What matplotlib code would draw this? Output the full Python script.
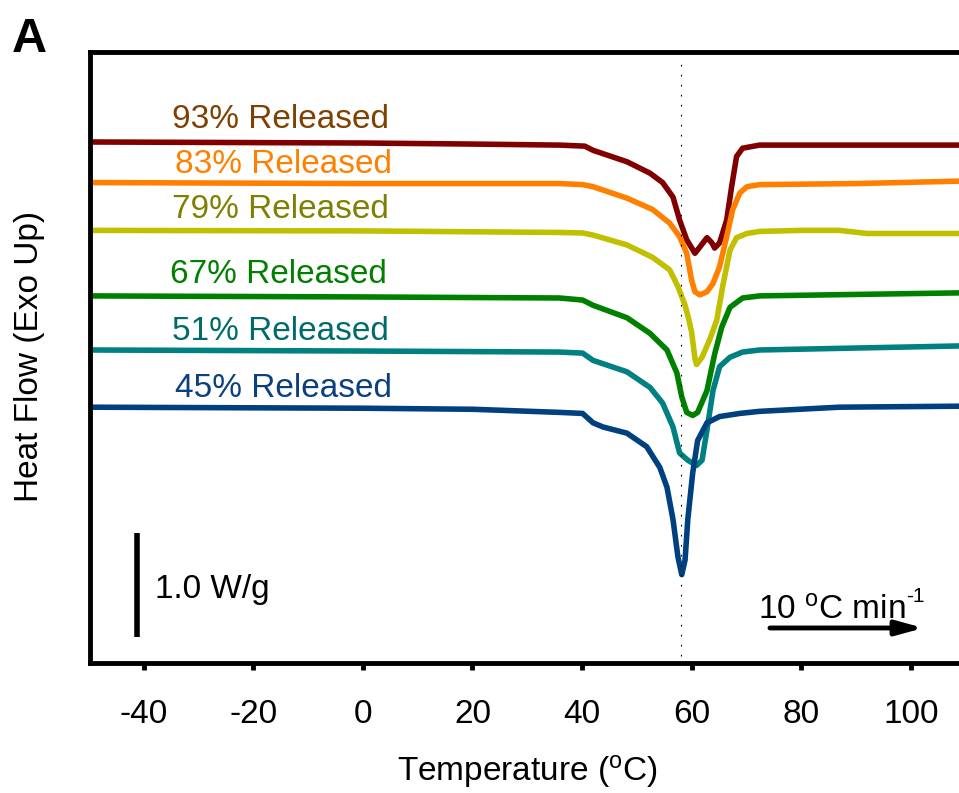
import matplotlib.pyplot as plt
import numpy as np

plt.rcParams['font.family'] = ['Liberation Sans', 'DejaVu Sans']
plt.rcParams['mathtext.fontset'] = 'custom'
plt.rcParams['mathtext.rm'] = 'Liberation Sans'
plt.rcParams['mathtext.it'] = 'Liberation Sans:italic'
plt.rcParams['axes.unicode_minus'] = False

# DSC traces, temperature (oC) vs. stacked heat flow (W/g)
t93 = [-50, 0, 20, 35.9, 40.5, 42.0, 48.2, 52.4, 54.7, 56.6, 57.8, 59.1, 60.6, 61.5,
       62.8, 63.7, 64.2, 65.1, 66.4, 67.3, 68.2, 69.3, 72.4, 90, 110]
hf93 = [5.01, 5.00, 4.99, 4.98, 4.97, 4.93, 4.82, 4.71, 4.62, 4.48, 4.26, 4.07, 3.94, 4.00,
        4.09, 4.04, 3.99, 4.04, 4.26, 4.58, 4.87, 4.95, 4.98, 4.98, 4.98]

t83 = [-50, 0, 35.9, 40.1, 42.0, 48.2, 52.9, 56.0, 57.8, 59.1, 60.0, 60.6, 61.5, 62.8,
       63.9, 65.1, 66.4, 67.5, 68.8, 70.1, 72.4, 90, 110]
hf83 = [4.62, 4.61, 4.61, 4.60, 4.58, 4.47, 4.36, 4.23, 4.10, 3.94, 3.68, 3.57, 3.54, 3.57,
        3.65, 3.81, 4.10, 4.36, 4.52, 4.58, 4.60, 4.61, 4.635]

t79 = [-50, 0, 35.9, 40.1, 42.0, 48.2, 52.9, 56.0, 57.5, 58.8, 59.5, 60.0, 60.6, 60.9,
       61.9, 63.3, 64.6, 65.7, 67.0, 68.2, 70.1, 72.4, 80, 87, 92, 110]
hf79 = [4.16, 4.155, 4.14, 4.135, 4.115, 4.02, 3.90, 3.78, 3.62, 3.44, 3.30, 3.18, 2.93, 2.87,
        2.94, 3.11, 3.30, 3.63, 3.97, 4.09, 4.13, 4.15, 4.16, 4.16, 4.13, 4.13]

t67 = [-50, 0, 35.9, 40.1, 42.0, 48.2, 52.4, 55.5, 57.3, 58.2, 59.1, 60.2, 61.1, 62.8,
       64.2, 65.5, 67.0, 69.3, 72.4, 110]
hf67 = [3.53, 3.52, 3.51, 3.49, 3.44, 3.32, 3.17, 3.01, 2.79, 2.56, 2.41, 2.38, 2.41, 2.62,
        2.97, 3.23, 3.42, 3.51, 3.53, 3.56]

t51 = [-50, 0, 35.9, 40.1, 42.0, 48.2, 52.4, 54.7, 56.6, 57.8, 59.3, 60.9, 61.9, 62.8,
       63.9, 65.1, 67.0, 69.3, 72.4, 110]
hf51 = [3.01, 3.00, 2.99, 2.98, 2.91, 2.80, 2.65, 2.50, 2.27, 2.02, 1.95, 1.90, 1.95, 2.24,
        2.62, 2.85, 2.94, 2.99, 3.01, 3.05]

t45 = [-50, 0, 20, 35.9, 40.1, 42.0, 43.8, 48.2, 51.8, 54.2, 55.5, 56.6, 57.5, 58.2, 58.8,
       59.3, 60.2, 61.1, 62.8, 65.1, 68.8, 72.4, 87, 110]
hf45 = [2.46, 2.45, 2.44, 2.41, 2.40, 2.31, 2.27, 2.21, 2.08, 1.88, 1.69, 1.38, 1.02, 0.85, 0.99,
        1.38, 1.83, 2.14, 2.31, 2.37, 2.40, 2.42, 2.46, 2.47]

temps = [t93, t83, t79, t67, t51, t45]
flows = [hf93, hf83, hf79, hf67, hf51, hf45]
labels = ['93% Released', '83% Released', '79% Released',
          '67% Released', '51% Released', '45% Released']
line_colors = ['#800000', '#ff8000', '#c0c000', '#008000', '#008080', '#00407f']
text_colors = ['#7f4000', '#ff8000', '#808000', '#008000', '#006b6b', '#0a4080']
label_x = [-34.9, -34.3, -34.9, -35.2, -34.9, -34.3]
label_y = [5.144, 4.71, 4.28, 3.65, 3.106, 2.56]

fig = plt.figure(figsize=(9.59, 7.93), dpi=100)
ax = fig.add_axes([0.0939, 0.1639, 0.9061, 0.7705])

for t, hf, c in zip(temps, flows, line_colors):
    ax.plot(t, hf, color=c, lw=4, solid_joinstyle='round', solid_capstyle='round')

for lab, x, y, c in zip(labels, label_x, label_y, text_colors):
    ax.text(x, y, lab, color=c, fontsize=24, ha='left', va='baseline')

# melting point marker
ax.axvline(58, ymin=0.012, ymax=0.985, color='black', lw=0.8, ls=(0, (1.5, 7.5)))

# 1.0 W/g scale bar
ax.plot([-41.2, -41.2], [0.25, 1.25], color='black', lw=4, solid_capstyle='butt')
ax.text(-38.0, 0.625, '1.0 W/g', fontsize=24, ha='left', va='baseline')

# heating rate arrow
ax.annotate('', xy=(102.3, 0.337), xytext=(74.3, 0.337),
            arrowprops=dict(arrowstyle='-|>,head_length=0.8,head_width=0.22',
                            lw=3.5, color='black', mutation_scale=20,
                            shrinkA=0, shrinkB=0))
rate = ax.text(72.1, 0.42, r'10 $^{\mathrm{o}}$C min', fontsize=24,
               ha='left', va='baseline')
ax.annotate('-1', xy=(1.0, 0.0), xycoords=rate, xytext=(0.5, 17.5),
            textcoords='offset points', fontsize=15, ha='left', va='baseline')

ax.set_xlim(-49.8, 108.8)
ax.set_ylim(0, 5.875)
ax.set_xticks([-40, -20, 0, 20, 40, 60, 80, 100])
ax.set_yticks([])
ax.tick_params(axis='x', labelsize=24, width=3.5, length=5, direction='out', pad=21)
for side in ['left', 'top', 'bottom']:
    ax.spines[side].set_linewidth(3.5)
ax.spines['right'].set_visible(False)

fig.text(0.5495, 0.0152, r'Temperature ($^{\mathrm{o}}$C)', fontsize=24,
         ha='center', va='baseline')
fig.text(0.031, 0.55, 'Heat Flow (Exo Up)', fontsize=24, rotation=90,
         ha='center', va='center')
fig.text(0.0125, 0.934, 'A', fontsize=35, fontweight='bold', ha='left', va='baseline')

fig.savefig('out.png', dpi=100)
